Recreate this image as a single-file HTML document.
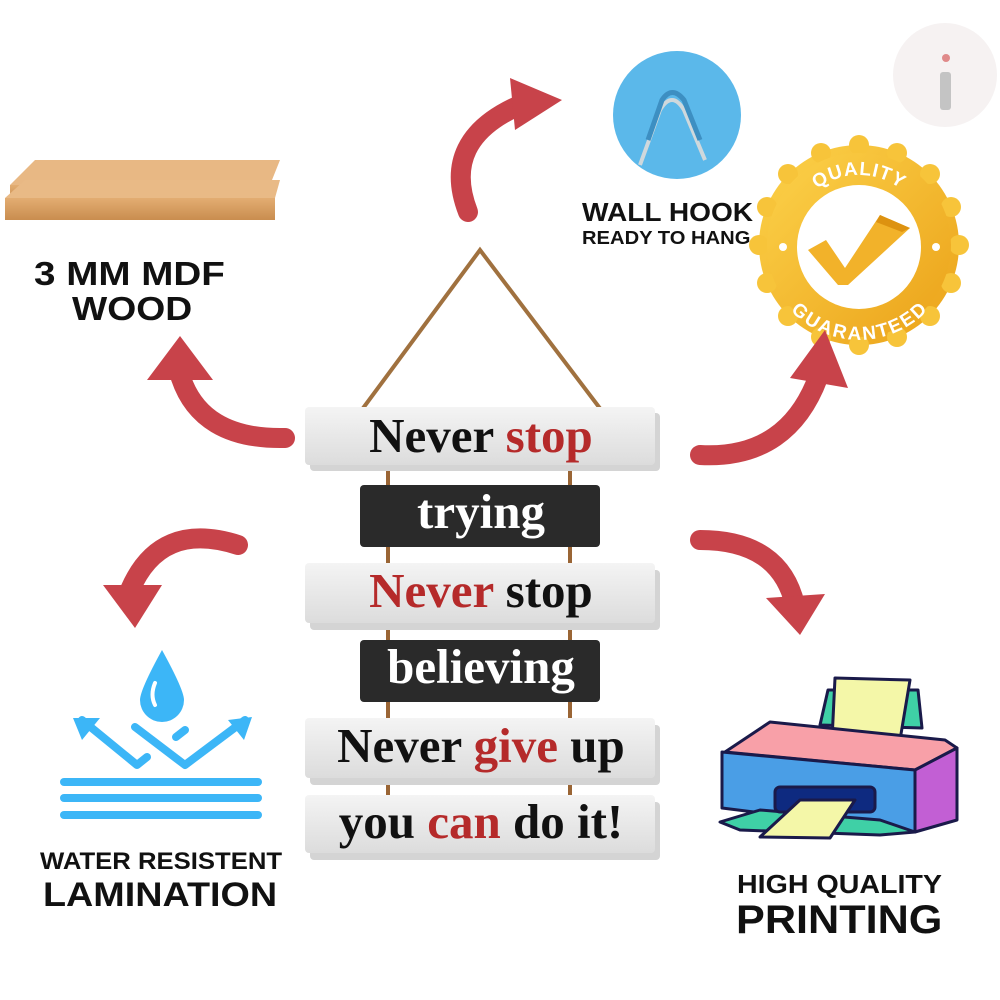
<!DOCTYPE html>
<html><head><meta charset="utf-8"><style>
html,body{margin:0;padding:0;background:#fff;}
body{width:1000px;height:1000px;position:relative;overflow:hidden;font-family:"Liberation Sans",sans-serif;}
.t{position:absolute;font-weight:bold;color:#111;line-height:1;white-space:nowrap;transform-origin:0 0;}
</style></head><body>
<svg width="1000" height="1000" viewBox="0 0 1000 1000" style="position:absolute;left:0;top:0">
<defs>
<linearGradient id="wood" x1="0" y1="0" x2="0" y2="1"><stop offset="0" stop-color="#e3ad72"/><stop offset="1" stop-color="#c98d4f"/></linearGradient>
<linearGradient id="gold" x1="0" y1="0" x2="1" y2="1"><stop offset="0" stop-color="#fcd24a"/><stop offset="1" stop-color="#eba219"/></linearGradient>
<linearGradient id="plank" x1="0" y1="0" x2="0" y2="1"><stop offset="0" stop-color="#f4f4f4"/><stop offset="1" stop-color="#dcdcdc"/></linearGradient>
<path id="topArc" d="M789,245 A70,70 0 0 1 929,245"/>
<path id="botArc" d="M777,245 A82,82 0 0 0 941,245"/>
</defs>
<circle cx="945" cy="75" r="52" fill="#f6f2f2"/>
<rect x="940" y="72" width="11" height="38" rx="3" fill="#c4c4c4"/>
<circle cx="946" cy="58" r="4" fill="#e08a8a"/>
<polygon points="10,185 35,160 280,160 270,185" fill="#e8b884"/>
<polygon points="10,185 270,185 270,200 10,200" fill="url(#wood)"/>
<polygon points="5,198 25,180 280,180 275,198" fill="#e9ba86"/>
<polygon points="5,198 275,198 275,220 5,220" fill="url(#wood)"/>
<circle cx="677" cy="115" r="64" fill="#5bb8ea"/>
<path d="M640,165 L660,110 Q672,90 684,110 L705,160" fill="none" stroke="#cfd8dc" stroke-width="4"/>
<path d="M648,140 L662,100 Q672,85 684,100 L700,140" fill="none" stroke="#3d8fc2" stroke-width="5"/>
<g>
<circle cx="859" cy="245" r="100" fill="url(#gold)"/>
<g fill="#f7c43a">
<circle cx="859" cy="145" r="10"/><circle cx="959" cy="245" r="10"/><circle cx="859" cy="345" r="10"/><circle cx="759" cy="245" r="10"/>
<circle cx="930" cy="174" r="10"/><circle cx="930" cy="316" r="10"/><circle cx="788" cy="316" r="10"/><circle cx="788" cy="174" r="10"/>
<circle cx="897" cy="153" r="10"/><circle cx="951" cy="207" r="10"/><circle cx="951" cy="283" r="10"/><circle cx="897" cy="337" r="10"/>
<circle cx="821" cy="337" r="10"/><circle cx="767" cy="283" r="10"/><circle cx="767" cy="207" r="10"/><circle cx="821" cy="153" r="10"/>
</g>
<circle cx="859" cy="245" r="92" fill="url(#gold)"/>
<circle cx="859" cy="247" r="62" fill="#fff"/>
<circle cx="783" cy="247" r="4" fill="#fff"/><circle cx="936" cy="247" r="4" fill="#fff"/>
<polygon points="808,250 826,240 845,268 880,215 910,228 848,285 838,285" fill="#f2b22a"/>
<polygon points="880,215 910,228 902,232 876,222" fill="#dd9210"/>
<text font-family="Liberation Sans" font-weight="bold" font-size="19" fill="#fff" letter-spacing="1"><textPath href="#topArc" startOffset="50%" text-anchor="middle">QUALITY</textPath></text>
<text font-family="Liberation Sans" font-weight="bold" font-size="19" fill="#fff"><textPath href="#botArc" startOffset="50%" text-anchor="middle" dominant-baseline="hanging">GUARANTEED</textPath></text>
</g>
<g fill="none" stroke="#c8434a" stroke-width="20" stroke-linecap="round">
<path d="M468,212 Q440,140 520,105"/>
<path d="M285,438 Q200,440 180,375"/>
<path d="M238,545 Q160,520 130,590"/>
<path d="M700,455 Q790,460 820,372"/>
<path d="M700,540 Q780,540 795,605"/>
</g>
<g fill="#c8434a">
<polygon points="510,78 562,100 515,130"/>
<polygon points="147,380 180,336 213,380"/>
<polygon points="103,585 135,628 162,585"/>
<polygon points="790,378 825,330 848,388"/>
<polygon points="766,598 800,635 825,594"/>
</g>
<path d="M358,415 L480,250 L605,415" fill="none" stroke="#a0713f" stroke-width="4"/>
<g stroke="#9a6535" stroke-width="4">
<line x1="388" y1="460" x2="388" y2="800"/><line x1="570" y1="460" x2="570" y2="800"/>
</g>
<g>
<rect x="308" y="410" width="350" height="58" rx="4" fill="#d4d4d4" transform="translate(2,3)"/>
<rect x="305" y="407" width="350" height="58" rx="4" fill="url(#plank)"/>
<rect x="360" y="485" width="240" height="62" rx="4" fill="#2a2a2a"/>
<rect x="308" y="567" width="350" height="60" rx="4" fill="#d4d4d4" transform="translate(2,3)"/>
<rect x="305" y="563" width="350" height="60" rx="4" fill="url(#plank)"/>
<rect x="360" y="640" width="240" height="62" rx="4" fill="#2a2a2a"/>
<rect x="308" y="722" width="350" height="60" rx="4" fill="#d4d4d4" transform="translate(2,3)"/>
<rect x="305" y="718" width="350" height="60" rx="4" fill="url(#plank)"/>
<rect x="308" y="799" width="350" height="58" rx="4" fill="#d4d4d4" transform="translate(2,3)"/>
<rect x="305" y="795" width="350" height="58" rx="4" fill="url(#plank)"/>
</g>
<g font-family="Liberation Serif" font-weight="bold" font-size="49" text-anchor="middle">
<text x="481" y="452"><tspan fill="#111">Never </tspan><tspan fill="#b52a2a">stop</tspan></text>
<text x="481" y="528" fill="#fff">trying</text>
<text x="481" y="607"><tspan fill="#b52a2a">Never </tspan><tspan fill="#111">stop</tspan></text>
<text x="481" y="683" fill="#fff">believing</text>
<text x="481" y="762"><tspan fill="#111">Never </tspan><tspan fill="#b52a2a">give </tspan><tspan fill="#111">up</tspan></text>
<text x="481" y="838"><tspan fill="#111">you </tspan><tspan fill="#b52a2a">can </tspan><tspan fill="#111">do it!</tspan></text>
</g>
<g fill="none" stroke="#3cb6f7" stroke-width="8" stroke-linecap="round" stroke-linejoin="round">
<path d="M82,720 L137,765 L147,757"/>
<path d="M135,727 L185,765 L245,720"/>
<path d="M176,737 L185,730"/>
<line x1="64" y1="782" x2="258" y2="782"/>
<line x1="64" y1="798" x2="258" y2="798"/>
<line x1="64" y1="815" x2="258" y2="815"/>
</g>
<g fill="#3cb6f7">
<path d="M162,650 Q140,690 140,700 A22,22 0 0 0 184,700 Q184,690 162,650Z"/>
<polygon points="73,718 100,718 82,740"/>
<polygon points="252,717 228,720 244,740"/>
</g>
<path d="M155,683 Q150,695 155,705" stroke="#fff" stroke-width="4" fill="none" stroke-linecap="round"/>
<g stroke="#1a1a4a" stroke-width="3" stroke-linejoin="round">
<path d="M820,725 L828,690 L918,690 L922,728Z" fill="#3fd0a6"/>
<path d="M835,678 L910,680 L900,740 L832,740Z" fill="#f4f7a8"/>
<path d="M725,752 L770,722 L945,740 L957,748 L915,770Z" fill="#f8a0a8"/>
<path d="M722,752 L915,770 L915,832 L722,808Z" fill="#4a9ee6"/>
<path d="M915,770 L957,748 L957,820 L915,832Z" fill="#c25fd4"/>
<path d="M720,822 L760,810 L880,820 L915,832 L880,835 L740,830Z" fill="#3fd0a6"/>
<rect x="775" y="787" width="100" height="25" rx="5" fill="#0e2a80"/>
<path d="M800,800 L855,800 L830,838 L760,837Z" fill="#f4f7a8"/>
</g>
</svg>
<div class="t" style="left:34px;top:257px;font-size:33px;transform:scaleX(1.17)">3 MM MDF</div>
<div class="t" style="left:72px;top:292px;font-size:33px;transform:scaleX(1.13)">WOOD</div>
<div class="t" style="left:582px;top:199px;font-size:26px;transform:scaleX(1.08)">WALL HOOK</div>
<div class="t" style="left:582px;top:229px;font-size:18px;transform:scaleX(1.12)">READY TO HANG</div>
<div class="t" style="left:40px;top:850px;font-size:24px;transform:scaleX(1.07)">WATER RESISTENT</div>
<div class="t" style="left:43px;top:878px;font-size:34px;transform:scaleX(1.11)">LAMINATION</div>
<div class="t" style="left:737px;top:871px;font-size:26px;transform:scaleX(1.1)">HIGH QUALITY</div>
<div class="t" style="left:736px;top:900px;font-size:40px;transform:scaleX(1.08)">PRINTING</div>
</body></html>
